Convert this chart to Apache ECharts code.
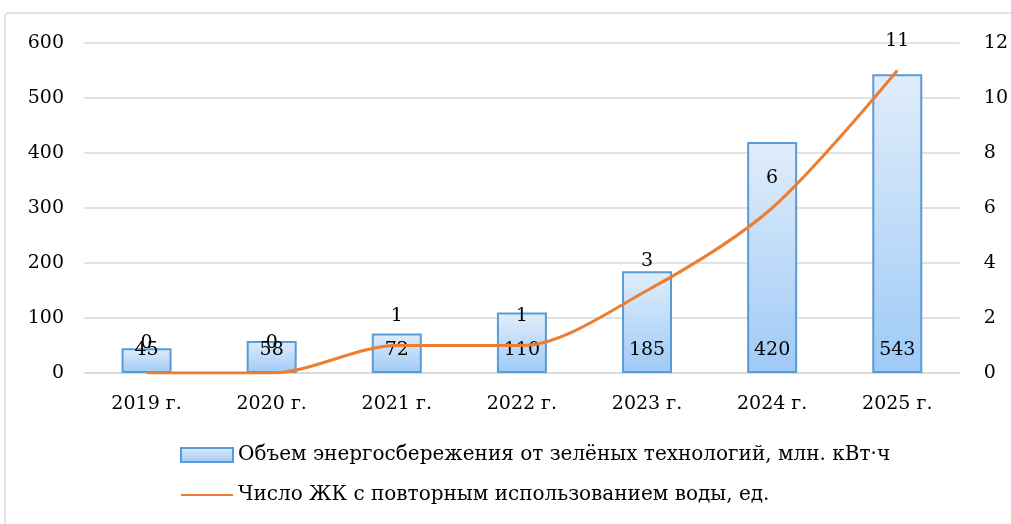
<!DOCTYPE html>
<html><head><meta charset="utf-8">
<script src="https://cdn.jsdelivr.net/npm/echarts@6/dist/echarts.min.js"></script>
<style>html,body{margin:0;padding:0;background:#fff}#c{width:1011px;height:524px}</style>
</head><body><div id="c"></div>
<script>
const categories = ['2019 г.', '2020 г.', '2021 г.', '2022 г.', '2023 г.', '2024 г.', '2025 г.'];
const energySaving = [45, 58, 72, 110, 185, 420, 543];
const reuseCount = [0, 0, 1, 1, 3, 6, 11];
const barName = 'Объем энергосбережения от зелёных технологий, млн. кВт·ч';
const lineName = 'Число ЖК с повторным использованием воды, ед.';

const font = 'DejaVu Serif';
const fs = 19;
const chart = echarts.init(document.getElementById('c'));
chart.setOption({
  animation: false,
  textStyle: { fontFamily: font },
  graphic: [{
    type: 'rect', shape: { x: 5, y: 13, width: 1100, height: 600, r: 4 },
    style: { fill: 'none', stroke: '#d9d9d9', lineWidth: 1.5 }, silent: true
  }],
  grid: { left: 84, right: 51, top: 43, bottom: 151 },
  legend: {
    orient: 'vertical', left: 175, top: 440, itemGap: 20,
    itemWidth: 52, itemHeight: 14,
    textStyle: { fontFamily: font, fontSize: 20, color: '#000' },
    data: [
      { name: barName, icon: 'rect' },
      { name: lineName, itemStyle: { opacity: 0 } }
    ]
  },
  xAxis: {
    type: 'category', data: categories,
    axisLine: { lineStyle: { color: '#d9d9d9', width: 1.5 } },
    axisTick: { show: false },
    axisLabel: { fontFamily: font, fontSize: fs, color: '#000', margin: 22 }
  },
  yAxis: [{
    type: 'value', min: 0, max: 600, interval: 100,
    axisLine: { show: false }, axisTick: { show: false },
    splitLine: { lineStyle: { color: '#d9d9d9', width: 1.5 } },
    axisLabel: { fontFamily: font, fontSize: fs, color: '#000', margin: 20 }
  }, {
    type: 'value', min: 0, max: 12, interval: 2,
    axisLine: { show: false }, axisTick: { show: false },
    splitLine: { show: false },
    axisLabel: { fontFamily: font, fontSize: fs, color: '#000', margin: 24 }
  }],
  series: [{
    name: barName, type: 'bar', data: energySaving, barWidth: 50, yAxisIndex: 0,
    itemStyle: {
      borderColor: '#5b9bd5', borderWidth: 2,
      color: new echarts.graphic.LinearGradient(0, 0, 0, 1, [
        { offset: 0, color: '#e1edfb' }, { offset: 1, color: '#9ecaf6' }
      ])
    },
    label: { show: true, position: 'insideBottom', distance: 13, fontFamily: font, fontSize: fs, color: '#000' }
  }, {
    name: lineName, type: 'line', data: reuseCount, yAxisIndex: 1,
    smooth: 0.3, symbol: 'circle', symbolSize: 0.1, showSymbol: true,
    lineStyle: { color: '#ed7d31', width: 3 }, itemStyle: { color: '#ed7d31' },
    label: { show: true, position: 'top', distance: 20, fontFamily: font, fontSize: fs, color: '#000' },
    z: 5
  }]
});
</script></body></html>
